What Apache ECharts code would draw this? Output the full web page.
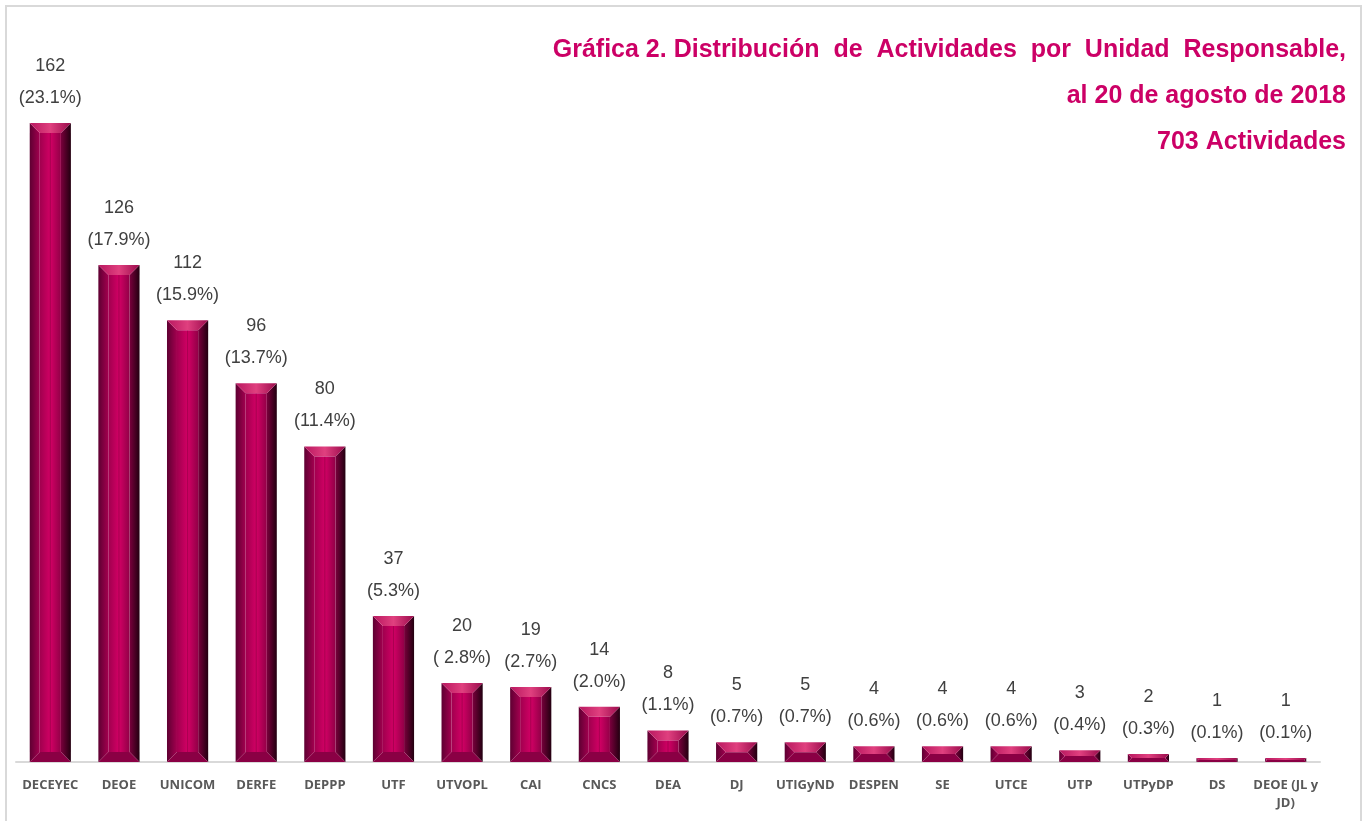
<!DOCTYPE html>
<html>
<head>
<meta charset="utf-8">
<script src="https://cdn.jsdelivr.net/npm/echarts@6/dist/echarts.min.js"></script>
<style>
  html, body { margin: 0; padding: 0; background: #fff; }
  #chart { width: 1364px; height: 821px; }
</style>
</head>
<body>
<div id="chart"></div>
<script>
var units = ['DECEYEC', 'DEOE', 'UNICOM', 'DERFE', 'DEPPP', 'UTF', 'UTVOPL', 'CAI', 'CNCS', 'DEA',
    'DJ', 'UTIGyND', 'DESPEN', 'SE', 'UTCE', 'UTP', 'UTPyDP', 'DS', 'DEOE (JL y\nJD)'];
var activities = [162, 126, 112, 96, 80, 37, 20, 19, 14, 8, 5, 5, 4, 4, 4, 3, 2, 1, 1];
var shares = ['23.1%', '17.9%', '15.9%', '13.7%', '11.4%', '5.3%', ' 2.8%', '2.7%', '2.0%', '1.1%',
    '0.7%', '0.7%', '0.6%', '0.6%', '0.6%', '0.4%', '0.3%', '0.1%', '0.1%'];

var titleLines = [
    'Gráfica 2. Distribución  de  Actividades  por  Unidad  Responsable,',
    'al 20 de agosto de 2018',
    '703 Actividades'
];

var myChart = echarts.init(document.getElementById('chart'));
var G = echarts.graphic;

// barra con bisel (cara frontal + 4 facetas)
function renderBar(params, api) {
    var i = api.value(0), v = api.value(1);
    var top = api.coord([i, v]);
    var base = api.coord([i, 0]);
    var bw = api.size([1, 0])[0] * 0.6;
    var x0 = top[0] - bw / 2, x1 = top[0] + bw / 2;
    var y0 = top[1], y1 = base[1];
    var h = y1 - y0;
    var b = Math.min(10, h / 2, bw / 4);

    var children = [
        { // lado izquierdo
            type: 'polygon',
            shape: { points: [[x0, y0], [x0 + b, y0 + b], [x0 + b, y1 - b], [x0, y1]] },
            style: { fill: new G.LinearGradient(0, 0, 1, 0, [
                { offset: 0, color: '#5e0032' }, { offset: 1, color: '#a3004f' }]) }
        },
        { // lado derecho
            type: 'polygon',
            shape: { points: [[x1, y0], [x1, y1], [x1 - b, y1 - b], [x1 - b, y0 + b]] },
            style: { fill: new G.LinearGradient(0, 0, 1, 0, [
                { offset: 0, color: '#7a003c' }, { offset: 1, color: '#220010' }]) }
        },
        { // bisel superior
            type: 'polygon',
            shape: { points: [[x0, y0], [x1, y0], [x1 - b, y0 + b], [x0 + b, y0 + b]] },
            style: { fill: new G.LinearGradient(0, 0, 1, 0, [
                { offset: 0, color: '#b8175f' }, { offset: 0.5, color: '#e0407f' }, { offset: 1, color: '#9a0b4c' }]) }
        },
        { // bisel inferior
            type: 'polygon',
            shape: { points: [[x0, y1], [x1, y1], [x1 - b, y1 - b], [x0 + b, y1 - b]] },
            style: { fill: '#8a0044' }
        },
        { // cara
            type: 'rect',
            shape: { x: x0 + b, y: y0 + b, width: bw - 2 * b, height: Math.max(0, h - 2 * b) },
            style: { fill: new G.LinearGradient(0, 0, 1, 0, [
                { offset: 0, color: '#a0004e' }, { offset: 0.45, color: '#cc0062' },
                { offset: 0.5, color: '#aa0050' }, { offset: 0.55, color: '#cc0062' },
                { offset: 1, color: '#920047' }]) }
        },
        { // etiqueta
            type: 'text',
            x: top[0], y: y0 - 9,
            style: {
                text: v + '\n(' + shares[i] + ')',
                align: 'center', verticalAlign: 'bottom',
                fontFamily: 'Liberation Sans, Arial, sans-serif',
                fontSize: 18, lineHeight: 32, fill: '#404040'
            }
        }
    ];
    return { type: 'group', children: children };
}

var option = {
    animation: false,
    graphic: [{
        type: 'rect',
        shape: { x: 6, y: 6, width: 1355, height: 830 },
        style: { fill: 'none', stroke: '#d9d9d9', lineWidth: 2 },
        silent: true
    }, {
        type: 'text',
        x: 1346,
        y: 27,
        silent: true,
        style: {
            text: titleLines.join('\n'),
            align: 'right',
            verticalAlign: 'top',
            fill: '#cc0066',
            fontFamily: 'Liberation Sans, Arial, sans-serif',
            fontSize: 25,
            fontWeight: 'bold',
            lineHeight: 46
        }
    }],
    grid: { left: 16, right: 44, top: 52, bottom: 59 },
    xAxis: {
        type: 'category',
        data: units,
        axisTick: { show: false },
        axisLine: { lineStyle: { color: '#d9d9d9', width: 2 } },
        axisLabel: {
            interval: 0,
            margin: 14,
            color: '#595959',
            fontFamily: 'Open Sans, sans-serif',
            fontSize: 13,
            fontWeight: 'bold',
            lineHeight: 18
        }
    },
    yAxis: {
        type: 'value',
        min: 0,
        max: 180,
        show: false,
        splitLine: { show: false }
    },
    series: [{
        type: 'custom',
        renderItem: renderBar,
        encode: { x: 0, y: 1 },
        data: activities.map(function (v, i) { return [i, v]; })
    }]
};

myChart.setOption(option);
window.onresize = function () { myChart.resize(); };
</script>
</body>
</html>
